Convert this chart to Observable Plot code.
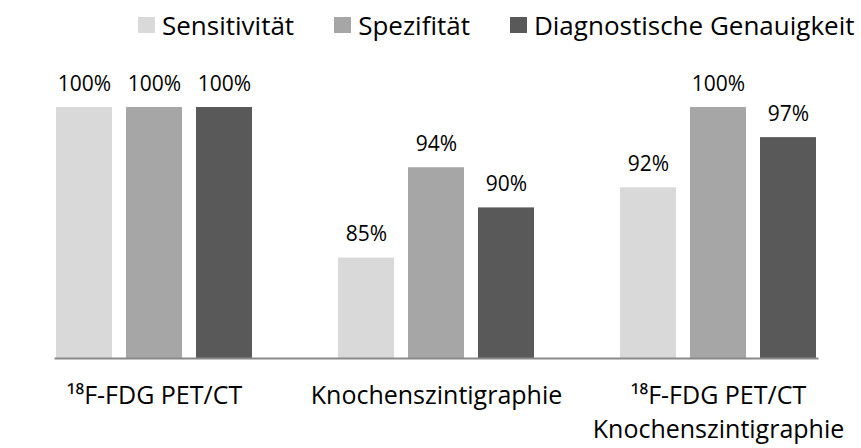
<!DOCTYPE html>
<html>
<head>
<meta charset="utf-8">
<script src="https://cdn.jsdelivr.net/npm/d3@7"></script>
<script src="https://cdn.jsdelivr.net/npm/@observablehq/plot@0.6"></script>
<style>
  body { margin: 0; background: #fff; }
  #chart { width: 861px; font-family: "Open Sans", sans-serif; }
  .legend { height: 50px; display: flex; align-items: center; padding-left: 138px; box-sizing: border-box; font-size: 26px; color: #000; white-space: nowrap; }
  .legend .item { display: flex; align-items: center; margin-right: 40px; flex: none; }
  .legend .item:last-child { margin-right: 0; }
  .legend .sw { width: 17px; height: 16px; margin-right: 7px; flex: none; }
</style>
</head>
<body>
<div id="chart"></div>
<script>
const groups = ["¹⁸F-FDG PET/CT", "Knochenszintigraphie", "¹⁸F-FDG PET/CT\nKnochenszintigraphie"];
const series = ["Sensitivität", "Spezifität", "Diagnostische Genauigkeit"];
const sensitivity = [100, 85, 92];
const specificity = [100, 94, 100];
const accuracy = [100, 90, 97];
const colors = ["#d9d9d9", "#a6a6a6", "#595959"];
const yMin = 75, yMax = 100;

const values = [sensitivity, specificity, accuracy];
const data = groups.flatMap((g, i) => series.map((s, j) => ({group: g, series: s, value: values[j][i]})));

const chart = document.getElementById("chart");
const legend = document.createElement("div");
legend.className = "legend";
series.forEach((s, j) => {
  const item = document.createElement("div");
  item.className = "item";
  const sw = document.createElement("span");
  sw.className = "sw";
  sw.style.background = colors[j];
  const t = document.createElement("span");
  t.textContent = s;
  item.append(sw, t);
  legend.append(item);
});
chart.append(legend);

const plot = Plot.plot({
  width: 861,
  height: 398,
  marginLeft: 11,
  marginRight: 1,
  marginTop: 57,
  marginBottom: 90,
  style: {fontFamily: '"Open Sans", sans-serif', color: "#000", background: "#fff"},
  fx: {domain: groups, paddingInner: 0.299, paddingOuter: 0.152},
  x: {domain: series, paddingInner: 0.204, paddingOuter: 0, axis: null},
  y: {domain: [yMin, yMax], axis: null},
  color: {domain: series, range: colors},
  marks: [
    Plot.barY(data, {fx: "group", x: "series", y1: yMin, y2: "value", fill: "series"}),
    Plot.text(data, {fx: "group", x: "series", y: "value", text: d => d.value + "%", dy: -17, lineAnchor: "bottom", fontSize: 21, fill: "#000"}),
    Plot.frame({anchor: "bottom", stroke: "#898989", strokeWidth: 2, facet: "super"}),
    Plot.axisFx({anchor: "bottom", tickSize: 0, tickPadding: 21, fontSize: 25, lineHeight: 1.38, label: null, fill: "#000"})
  ]
});
chart.append(plot);
</script>
</body>
</html>
